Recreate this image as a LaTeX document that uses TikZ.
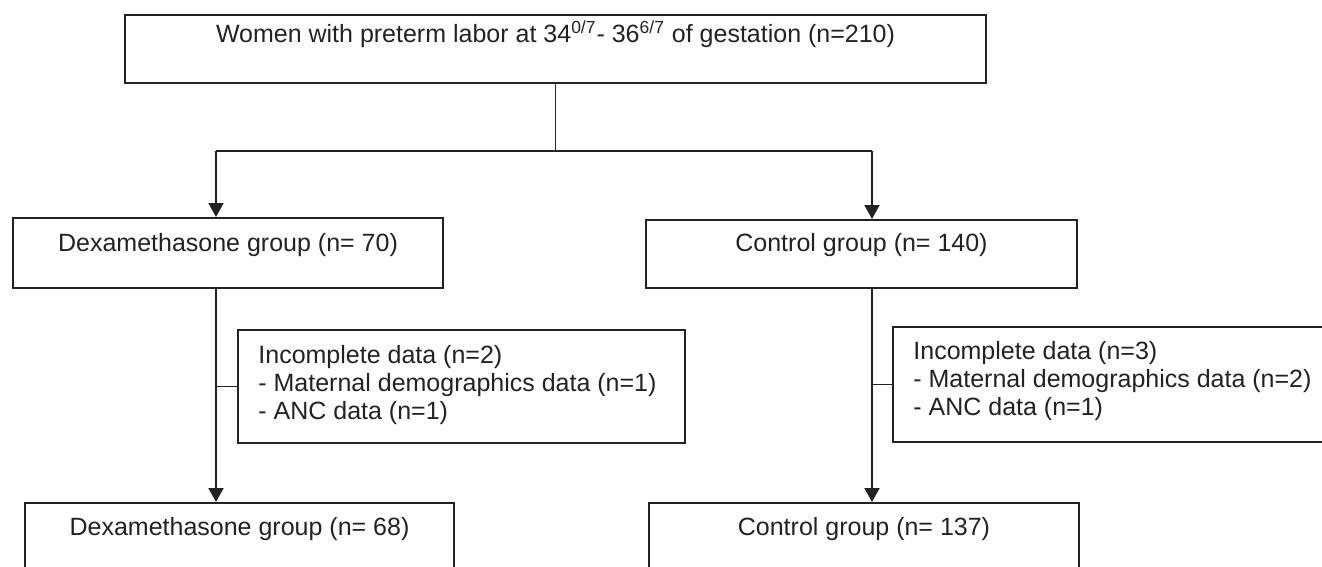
\documentclass[tikz,border=0pt]{standalone}
\usepackage{fontspec}
\setmainfont{Liberation Sans}
\usetikzlibrary{arrows.meta}
\definecolor{ink}{HTML}{222222}
\begin{document}
\begin{tikzpicture}[x=0.5pt,y=-0.5pt,
  boxwh/.style 2 args={draw=ink,line width=1pt,inner sep=0pt,
    minimum width=#1*0.5pt,minimum height=#2*0.5pt},
  txt/.style={text=ink,inner sep=0pt,font=\fontsize{12.5}{14}\selectfont},
  listtxt/.style={text=ink,inner sep=0pt,anchor=west,align=left,
    font=\fontsize{12.5}{14}\selectfont},
  thin/.style={draw=ink,line width=0.55pt},
  flow/.style={draw=ink,line width=1pt,-{Triangle[width=7.5pt,length=7pt]}}]
\useasboundingbox (0,0) rectangle (1322,567);
\clip (0,0) rectangle (1322,567);

% boxes
\node[boxwh={861}{68}] (top) at (555.5,49) {};
\node[boxwh={430}{70}] (dex1) at (228,253) {};
\node[boxwh={431}{68}] (ctl1) at (861.5,254) {};
\node[boxwh={447}{113}] (inc1) at (461.5,386.5) {};
\node[boxwh={447}{115}] (inc2) at (1116.5,384.5) {};
\node[boxwh={429}{97}] (dex2) at (239.5,551.5) {};
\node[boxwh={430}{97}] (ctl2) at (864,551.5) {};

% texts
\node[txt] (ttop) at (555.5,34) {Women with preterm labor at 34\textsuperscript{0/7}- 36\textsuperscript{6/7} of gestation (n=210)};
\node[txt] (tdex1) at (228,245) {Dexamethasone group (n= 70)};
\node[txt] (tctl1) at (861.5,245) {Control group (n= 140)};
\node[listtxt] (tinc1) at (258,385) {Incomplete data (n=2)\\- Maternal demographics data (n=1)\\- ANC data (n=1)};
\node[listtxt] (tinc2) at (913,381) {Incomplete data (n=3)\\- Maternal demographics data (n=2)\\- ANC data (n=1)};
\node[txt] (tdex2) at (239.5,529) {Dexamethasone group (n= 68)};
\node[txt] (tctl2) at (864,529) {Control group (n= 137)};

% connectors
\coordinate (jL) at (216,151);
\coordinate (jR) at (872,151);
\draw[thin] (top.south) -- (top.south |- jL);
\draw[thin] (jL) -- (jR);
\draw[flow] (jL) -- (jL |- dex1.north);
\draw[flow] (jR) -- (jR |- ctl1.north);
\draw[flow] (dex1.south -| jL) -- (dex2.north -| jL);
\draw[flow] (ctl1.south -| jR) -- (ctl2.north -| jR);
\draw[thin] (inc1.west -| jL) -- (inc1.west);
\draw[thin] (inc2.west -| jR) -- (inc2.west);
\end{tikzpicture}
\end{document}
